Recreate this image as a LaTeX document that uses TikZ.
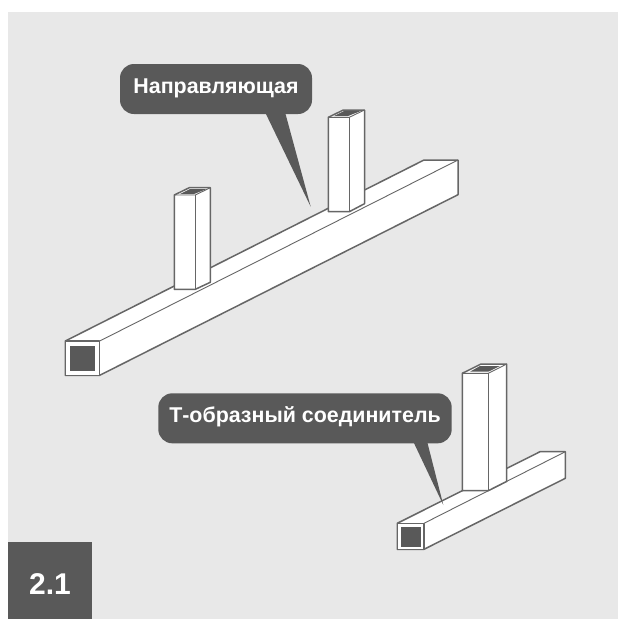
\documentclass[tikz,border=0pt]{standalone}
\usepackage{fontspec}
\setmainfont{Liberation Sans}
\usepackage{xcolor}
\definecolor{panelgray}{HTML}{E8E8E8}
\definecolor{darkgray}{HTML}{595959}
\definecolor{edgegray}{HTML}{666666}
\begin{document}
\begin{tikzpicture}[x=1pt,y=-1pt,line join=round,
  edge/.style={draw=edgegray,line width=1.5pt,fill=white},
  ridge/.style={draw=edgegray,line width=0.9pt},
  hole/.style={fill=darkgray},
  bubble/.style={fill=darkgray,text=white,rounded corners=14pt,inner sep=0pt,minimum height=50pt,text height=15pt,text depth=6pt,font=\fontsize{21.4}{24}\selectfont\bfseries}]
\useasboundingbox (0,0) rectangle (618,619);
\fill[panelgray] (8,12) rectangle (618,619);
% long beam
\draw[edge] (65.3,341) -- (424,160) -- (458,160) -- (458,194.7) -- (99.7,375.3) -- (65.3,375.3) -- cycle;
\draw[ridge] (99.7,341) -- (458,160);
\draw[edge] (65.3,341) rectangle (99.7,375.3);
\fill[hole] (70,346) rectangle (95,371);
% first post
\draw[edge] (174.3,195) -- (189.3,187.7) -- (210.3,187.7) -- (210.3,282.3) -- (195.3,289.3) -- (174.3,289.3) -- cycle;
\draw[ridge] (174.3,195) -- (195.3,195) -- (210.3,187.7);
\draw[ridge] (195.3,195) -- (195.3,289.3);
\fill[hole] (180,194) -- (190,189) -- (206.7,189) -- (194,194) -- cycle;
% second post
\draw[edge] (328.3,117.3) -- (343.3,110) -- (364.5,110) -- (364.5,203.7) -- (349.3,211.7) -- (328.3,211.7) -- cycle;
\draw[ridge] (328.3,117.3) -- (349.3,117.3) -- (364.5,110);
\draw[ridge] (349.3,117.3) -- (349.3,211.7);
\fill[hole] (334,116) -- (344,111) -- (360.7,111) -- (348,116) -- cycle;
% short beam
\draw[edge] (397.3,523.3) -- (540,451.7) -- (565.3,451.7) -- (565.3,478.3) -- (424,549.3) -- (397.3,549.3) -- cycle;
\draw[ridge] (424,523.3) -- (565.3,451.7);
\draw[edge] (397.3,523.3) rectangle (424,549.3);
\fill[hole] (400.7,526.7) rectangle (420.7,546.7);
% tall post
\draw[edge] (462.3,373.3) -- (481,364) -- (506.7,364) -- (506.7,481.4) -- (488.3,490.7) -- (462.3,490.7) -- cycle;
\draw[ridge] (462.3,373.3) -- (488.3,373.3) -- (506.7,364);
\draw[ridge] (488.3,373.3) -- (488.3,490.7);
\fill[hole] (470,371.7) -- (480,366) -- (500,366) -- (488.3,371.7) -- cycle;
% callouts
\node[bubble,minimum width=192pt] (guide) at (216,89) {Направляющая};
\coordinate (guidetip) at (310.7,206.7);
\fill[darkgray] (265,112) -- (guidetip) -- (285,112) -- cycle;
\node[bubble,minimum width=293.4pt] (joint) at (305,418.3) {Т-образный соединитель};
\coordinate (jointtip) at (443.3,505);
\fill[darkgray] (413,441) -- (jointtip) -- (427,441) -- cycle;
% badge
\fill[darkgray] (8,542) rectangle (92,619);
\node[text=white,font=\fontsize{30}{34}\selectfont\bfseries] (badge) at (50,584) {2.1};
\end{tikzpicture}
\end{document}
